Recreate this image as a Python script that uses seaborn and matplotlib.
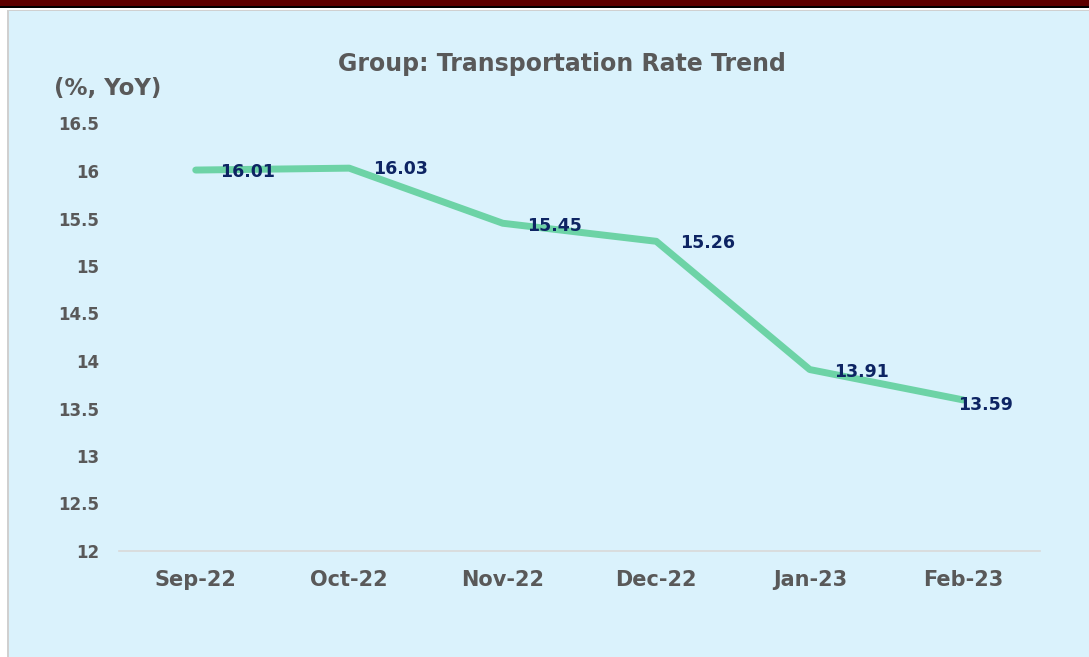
import matplotlib
matplotlib.use("Agg")
import matplotlib.pyplot as plt
import seaborn as sns
import pandas as pd
from matplotlib.patches import Rectangle

months = ["Sep-22", "Oct-22", "Nov-22", "Dec-22", "Jan-23", "Feb-23"]
rates = [16.01, 16.03, 15.45, 15.26, 13.91, 13.59]
y_ticks = [12, 12.5, 13, 13.5, 14, 14.5, 15, 15.5, 16, 16.5]
y_tick_labels = ["12", "12.5", "13", "13.5", "14", "14.5", "15", "15.5", "16", "16.5"]

sns.set_theme(style="white")
plt.rcParams["font.family"] = ["DejaVu Sans"]

W, H = 1089, 657
fig = plt.figure(figsize=(W / 100, H / 100), dpi=100)
fig.patch.set_facecolor("white")

BG = "#DAF2FC"
GRAY = "#595959"
NAVY = "#0D2463"
GREEN = "#6DD3A6"

# decorative frame
def frame_rect(x, y, w, h, color):
    fig.patches.append(Rectangle((x / W, 1 - (y + h) / H), w / W, h / H,
                                 transform=fig.transFigure, facecolor=color,
                                 edgecolor="none", zorder=-10))

frame_rect(0, 0, W, 6, "#5C0000")
frame_rect(0, 6, W, 2, "#000000")
frame_rect(8, 10, W - 8, H - 10, BG)
frame_rect(8, 9.5, W - 8, 1.5, "#D0D0D0")
frame_rect(7, 10, 2, H - 10, "#D0D0D0")

ax = fig.add_axes([119 / W, 1 - 551 / H, (1040 - 119) / W, (551 - 123.5) / H])
ax.set_facecolor("none")
ax.set_zorder(1)

df = pd.DataFrame({"month": months, "rate": rates})
sns.lineplot(data=df, x="month", y="rate", ax=ax, color=GREEN, linewidth=5,
             sort=False, solid_capstyle="round", solid_joinstyle="round")

ax.set_xlim(-0.5, len(months) - 0.5)
ax.set_ylim(12, 16.5)
ax.set_yticks(y_ticks)
ax.set_yticklabels(y_tick_labels)
ax.set_xlabel("")
ax.set_ylabel("")

for s in ["top", "right", "left"]:
    ax.spines[s].set_visible(False)
ax.spines["bottom"].set_color("#D9D9D9")
ax.spines["bottom"].set_linewidth(1.2)
ax.tick_params(axis="y", length=0, pad=14, labelsize=12, labelcolor=GRAY)
ax.tick_params(axis="x", length=0, pad=14, labelsize=15, labelcolor=GRAY)
for lab in ax.get_xticklabels() + ax.get_yticklabels():
    lab.set_fontweight("bold")

# data labels
offsets = [(24, -2), (24, -1), (24, -3), (24, -2), (24, -2), (-5, -5)]
for i, (v, off) in enumerate(zip(rates, offsets)):
    ax.annotate(f"{v:.2f}", (i, v), xytext=off, textcoords="offset pixels",
                ha="left", va="center", fontsize=12.5, fontweight="bold", color=NAVY)

fig.text(562 / W, 1 - 64 / H, "Group: Transportation Rate Trend", ha="center", va="center",
         fontsize=17, fontweight="bold", color=GRAY)
fig.text(54 / W, 1 - 88 / H, "(%, YoY)", ha="left", va="center",
         fontsize=16.5, fontweight="bold", color=GRAY)

fig.savefig("out.png", dpi=100, facecolor=fig.get_facecolor())
